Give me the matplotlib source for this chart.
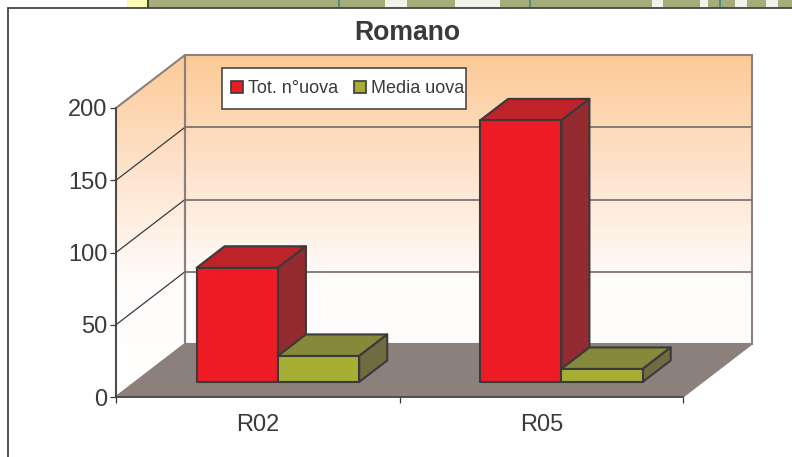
import numpy as np
import matplotlib
matplotlib.use("Agg")
import matplotlib.pyplot as plt
from matplotlib.patches import Polygon, Patch, Rectangle
from matplotlib.colors import LinearSegmentedColormap

plt.rcParams['font.family'] = ['Liberation Sans', 'DejaVu Sans']

categories = ["R02", "R05"]
tot_uova = [79, 181]
media_uova = [18, 9]
y_ticks = [0, 50, 100, 150, 200]
title = "Romano"
labels = ["Tot. n°uova", "Media uova"]

W, H = 792, 457
INK = "#3a3a3c"
WALL = "#8c807c"

# the 3d look: shift in data units for a full step into the chart
DX, DY = 69 / 283.5, 53 / 1.445


def p(x, y, d):
    return (x + d * DX, y + d * DY)


def strip(x0, x1, color, z=-5):
    fig.patches.append(Rectangle((x0 / W, 1 - 8 / H), (x1 - x0) / W, 8 / H, transform=fig.transFigure,
                                 color=color, zorder=z, linewidth=0))


fig = plt.figure(figsize=(7.92, 4.57), dpi=100)
ax = fig.add_axes([116 / W, (H - 397) / H, 567 / W, 289 / H])
ax.set_xlim(0, 2)
ax.set_ylim(0, 200)
ax.patch.set_visible(False)

# bit of the map showing above the chart
strip(127, 147, "#fdfbb4")
strip(147, W, "#a6ad7a")
strip(147, 149, "#3f4a35", -4.5)
for x0, x1 in [(338, 340), (529, 531), (719, 721)]:
    strip(x0, x1, "#4f9078", -4.5)
for x0, x1 in [(385, 407), (455, 500), (652, 663), (700, 708), (735, 747), (766, 778)]:
    strip(x0, x1, "#f0f2ea", -4.5)
fig.patches.append(Rectangle((7.5 / W, -0.01), (W - 7) / W, 1 - 7.5 / H + 0.01, transform=fig.transFigure,
                             facecolor="white", edgecolor="#444446", linewidth=1.3, zorder=-4))

cmap = LinearSegmentedColormap.from_list("wall", ["#fdca96", "#fee3cc", "#fffdfb", "#ffffff"], N=256)
grad = np.linspace(0, 1, 256).reshape(-1, 1)

back = Polygon([p(0, 0, 1), p(2, 0, 1), p(2, 200, 1), p(0, 200, 1)], closed=True, facecolor="none",
               edgecolor=WALL, linewidth=1.5, zorder=2, clip_on=False)
side = Polygon([p(0, 0, 0), p(0, 0, 1), p(0, 200, 1), p(0, 200, 0)], closed=True, facecolor="none",
               edgecolor=WALL, linewidth=1.5, zorder=2, clip_on=False)
floor = Polygon([p(0, 0, 0), p(2, 0, 0), p(2, 0, 1), p(0, 0, 1)], closed=True, facecolor="#8c807c",
                edgecolor=WALL, linewidth=1, zorder=3, clip_on=False)
ax.add_patch(back)
ax.add_patch(side)
ax.add_patch(floor)

top = 200 + DY
for wall in [back, side]:
    im = ax.imshow(grad, cmap=cmap, aspect="auto", extent=(-0.1, 2 + DX + 0.1, 0, top), origin="upper", zorder=1)
    im.set_clip_path(wall)
    im.set_clip_box(fig.bbox)
ax.set_xlim(0, 2)
ax.set_ylim(0, 200)

for v in y_ticks[1:-1]:
    ax.plot(*zip(p(0, v, 0), p(0, v, 1)), color=INK, linewidth=0.9, zorder=2, clip_on=False)
    ax.plot(*zip(p(0, v, 1), p(2, v, 1)), color="#7f7472", linewidth=1.3, zorder=2, clip_on=False)


def bar3d(x0, x1, h, front, topc, sidec, z):
    d0, d1 = 0.283, 0.69
    lw = 1.5
    ax.add_patch(Polygon([p(x0, 0, d0), p(x1, 0, d0), p(x1, h, d0), p(x0, h, d0)], facecolor=front,
                         edgecolor=INK, linewidth=lw, zorder=z + 0.2, clip_on=False, joinstyle="round"))
    ax.add_patch(Polygon([p(x0, h, d0), p(x1, h, d0), p(x1, h, d1), p(x0, h, d1)], facecolor=topc,
                         edgecolor=INK, linewidth=lw, zorder=z, clip_on=False, joinstyle="round"))
    ax.add_patch(Polygon([p(x1, 0, d0), p(x1, 0, d1), p(x1, h, d1), p(x1, h, d0)], facecolor=sidec,
                         edgecolor=INK, linewidth=lw, zorder=z, clip_on=False, joinstyle="round"))


bw = 81.3 / 283.5
for i in range(len(categories)):
    x = i + 0.502
    # red first, the olive one sits in front of its side face
    bar3d(x - bw, x, tot_uova[i], "#ed1c24", "#be2329", "#932b30", 4)
    bar3d(x, x + bw, media_uova[i], "#a7ae34", "#87893a", "#6f6d3f", 5)

ax.spines["top"].set_visible(False)
ax.spines["right"].set_visible(False)
for s in ["left", "bottom"]:
    ax.spines[s].set_color(INK)
    ax.spines[s].set_linewidth(1.1)
    ax.spines[s].set_zorder(6)

ax.set_yticks(y_ticks)
ax.set_xticks([0, 1, 2])
ax.set_xticklabels([])
ax.set_xticks([0.5, 1.5], minor=True)
ax.set_xticklabels(categories, minor=True)
ax.tick_params(axis="y", length=4.5, width=0.9, color=INK, labelcolor=INK, labelsize=17, pad=1.5)
ax.tick_params(axis="x", which="major", length=4.5, width=0.9, color=INK)
ax.tick_params(axis="x", which="minor", length=0, labelcolor=INK, labelsize=17, pad=12.5)

fig.text(407 / W, 1 - 33.5 / H, title, fontsize=19.2, fontweight="bold", color=INK, ha="center", va="center")

# legend frame is drawn apart, the right padding is much smaller than the left one
ax.add_patch(Rectangle((221.5 / W, 1 - 108.5 / H), 244 / W, 41 / H, transform=fig.transFigure,
                       facecolor="white", edgecolor=INK, linewidth=1.1, zorder=6.5, clip_on=False))
handles = [Patch(facecolor="#ed1c24", edgecolor=INK, linewidth=1.2),
           Patch(facecolor="#a7ae34", edgecolor=INK, linewidth=1.2)]
leg = ax.legend(handles, labels, loc="center left", bbox_to_anchor=(231 / W, 1 - 88.5 / H),
                bbox_transform=fig.transFigure, ncol=2, fontsize=13, frameon=False,
                handlelength=0.66, handleheight=0.66, handletextpad=0.3,
                columnspacing=0.85, borderpad=0, borderaxespad=0, labelcolor=INK)
leg.set_zorder(7)

fig.savefig("out.png", dpi=100)
